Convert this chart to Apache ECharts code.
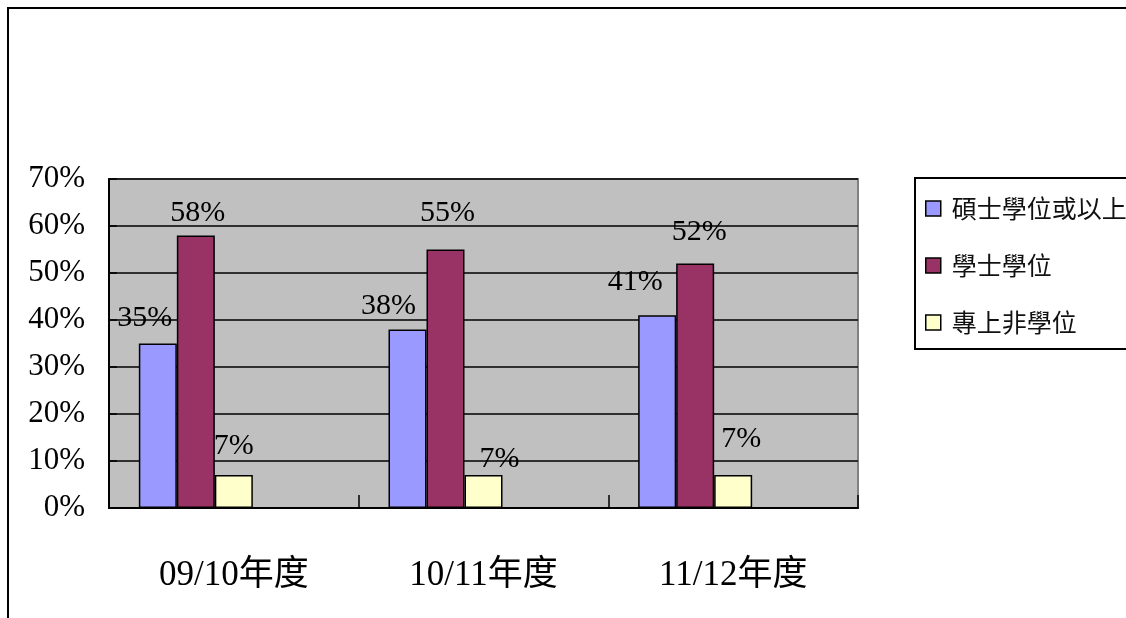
<!DOCTYPE html>
<html>
<head>
<meta charset="utf-8">
<script src="https://cdn.jsdelivr.net/npm/echarts@6/dist/echarts.min.js"></script>
<style>
html,body{margin:0;padding:0;background:#fff;}
#chart{width:1126px;height:618px;}
</style>
</head>
<body>
<div id="chart"></div>
<script>
const categories = ['09/10年度', '10/11年度', '11/12年度'];
const seriesNames = ['碩士學位或以上', '學士學位', '專上非學位'];
const masterValues = [35, 38, 41];
const bachelorValues = [58, 55, 52];
const subDegreeValues = [7, 7, 7];
const yTicks = [0, 10, 20, 30, 40, 50, 60, 70];

// label nudges (layout only)
const labelShift = [
  [[-13, -5], [-19, -3], [-22, -13]],
  [[2, -2], [2, -16], [4, -11]],
  [[0, -9], [16, 4], [8, -16]]
];
const colors = ['#9999FF', '#993366', '#FFFFCC'];
const serif = "'Liberation Serif', 'Times New Roman', 'Noto Sans CJK TC', serif";
const cjk = "'Noto Sans CJK TC', 'Noto Sans CJK SC', sans-serif";

const valueSets = [masterValues, bachelorValues, subDegreeValues];

const series = valueSets.map((vals, si) => ({
  name: seriesNames[si],
  type: 'bar',
  barWidth: 38,
  barGap: '0%',
  itemStyle: { color: colors[si], borderColor: '#000', borderWidth: 1.5 },
  label: {
    show: true, position: 'top', distance: 5,
    formatter: '{c}%', fontFamily: serif, fontSize: 30, color: '#000'
  },
  data: vals.map((v, i) => ({ value: v, label: { offset: labelShift[si][i] } }))
}));
// two unused slots present in the original chart layout (no data)
series.push({ name: '_a', type: 'bar', barWidth: 38, barGap: '0%', data: [] });
series.push({ name: '_b', type: 'bar', barWidth: 38, barGap: '0%', data: [] });

const chart = echarts.init(document.getElementById('chart'));
chart.setOption({
  animation: false,
  backgroundColor: '#fff',
  grid: {
    left: 109, right: 268, top: 179, bottom: 110,
    show: true, backgroundColor: '#C0C0C0', borderColor: '#808080', borderWidth: 2
  },
  legend: {
    data: seriesNames,
    orient: 'vertical',
    left: 915, top: 178,
    padding: [18, 14, 14, 10],
    itemGap: 32,
    itemWidth: 15, itemHeight: 15,
    icon: 'rect',
    borderColor: '#000', borderWidth: 2,
    backgroundColor: '#fff',
    textStyle: { fontFamily: cjk, fontSize: 25, color: '#111', lineHeight: 24, padding: [0, 0, 0, 6] },
    itemStyle: { borderColor: '#000', borderWidth: 1.5 }
  },
  xAxis: {
    type: 'category',
    data: categories,
    axisLine: { lineStyle: { color: '#000', width: 2 } },
    axisTick: { show: true, inside: true, length: 13, lineStyle: { color: '#000', width: 1.5 } },
    axisLabel: { margin: 50, fontFamily: serif, fontSize: 35, color: '#000' },
    splitLine: { show: false }
  },
  yAxis: {
    type: 'value',
    min: yTicks[0], max: yTicks[yTicks.length - 1], interval: 10,
    axisLine: { show: true, lineStyle: { color: '#000', width: 2 } },
    axisTick: { show: true, inside: true, length: 8, lineStyle: { color: '#000', width: 1.5 } },
    axisLabel: { formatter: '{value}%', margin: 24, fontFamily: serif, fontSize: 31, color: '#000' },
    splitLine: { show: true, lineStyle: { color: '#000', width: 1.5 } }
  },
  graphic: [{
    type: 'rect',
    silent: true,
    z: 100,
    shape: { x: 8, y: 8, width: 1200, height: 700 },
    style: { fill: 'none', stroke: '#000', lineWidth: 2 }
  }],
  series: series
});
</script>
</body>
</html>
